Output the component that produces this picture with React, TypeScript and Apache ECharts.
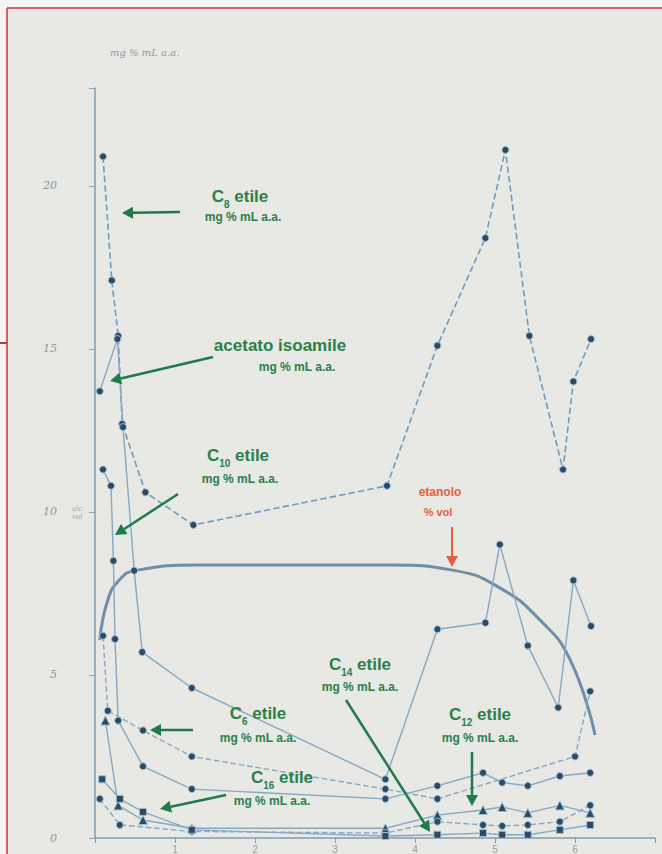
import React, { useEffect, useRef } from "react";
import * as echarts from "echarts";

// ---- data (x in time units, y in mg % mL a.a.) ----
const xTickLabels = ["", "1", "2", "3", "4", "5", "6", ""];
const yTickLabels: Record<number, string> = { 0: "0", 5: "5", 10: "10", 15: "15", 20: "20" };

const c8Etile = [
  [0.1, 20.9], [0.21, 17.1], [0.29, 15.4], [0.34, 12.7], [0.63, 10.6], [1.23, 9.6],
  [3.65, 10.8], [4.28, 15.1], [4.88, 18.4], [5.13, 21.1], [5.43, 15.4], [5.85, 11.3],
  [5.98, 14.0], [6.2, 15.3],
];
const acetatoIsoamile = [
  [0.06, 13.7], [0.28, 15.3], [0.35, 12.6], [0.49, 8.2], [0.59, 5.7], [1.21, 4.6],
  [3.63, 1.8], [4.28, 6.4], [4.88, 6.6], [5.06, 9.0], [5.41, 5.9], [5.79, 4.0],
  [5.98, 7.9], [6.2, 6.5],
];
const c10Etile = [
  [0.1, 11.3], [0.2, 10.8], [0.23, 8.5], [0.25, 6.1], [0.29, 3.6], [0.6, 2.2],
  [1.21, 1.5], [3.63, 1.2], [4.28, 1.6], [4.85, 2.0], [5.09, 1.7], [5.41, 1.6],
  [5.81, 1.9], [6.19, 2.0],
];
const c6Etile = [
  [0.1, 6.2], [0.16, 3.9], [0.6, 3.3], [1.21, 2.5], [3.63, 1.5], [4.28, 1.2],
  [6.0, 2.5], [6.19, 4.5],
];
const c12Etile = [
  [0.13, 3.6], [0.29, 1.0], [0.6, 0.55], [1.21, 0.3], [3.63, 0.3], [4.28, 0.7],
  [4.85, 0.86], [5.09, 0.95], [5.41, 0.77], [5.81, 1.0], [6.19, 0.77],
];
const c14Etile = [
  [0.06, 1.2], [0.31, 0.4], [1.21, 0.2], [3.63, 0.15], [4.28, 0.5], [4.85, 0.4],
  [5.09, 0.37], [5.41, 0.4], [5.81, 0.5], [6.19, 1.0],
];
const c16Etile = [
  [0.09, 1.8], [0.31, 1.2], [0.6, 0.8], [1.21, 0.25], [3.63, 0.06], [4.28, 0.1],
  [4.85, 0.15], [5.09, 0.1], [5.41, 0.1], [5.81, 0.25], [6.19, 0.4],
];
const etanoloVol = [
  [0.06, 6.07], [0.16, 7.3], [0.3, 7.9], [0.5, 8.2], [1.31, 8.37], [3.69, 8.37],
  [4.5, 8.2], [5.06, 7.67], [5.56, 6.69], [5.94, 5.46], [6.25, 3.16],
];

const GREEN = "#2b8048";
const ARROW_GREEN = "#1f7a4c";
const RED = "#e0623e";
const LINE = "#86a8c2";
const DOT = "#2c4a62";

function arrow(x1: number, y1: number, x2: number, y2: number, color: string, w = 2.5) {
  const dx = x2 - x1, dy = y2 - y1;
  const len = Math.sqrt(dx * dx + dy * dy);
  const ux = dx / len, uy = dy / len;
  const hl = 11, hw = 6;
  const bx = x2 - ux * hl, by = y2 - uy * hl;
  return [
    { type: "line", z: 100, shape: { x1, y1, x2: bx, y2: by }, style: { stroke: color, lineWidth: w } },
    {
      type: "polygon", z: 100,
      shape: { points: [[x2, y2], [bx - uy * hw, by + ux * hw], [bx + uy * hw, by - ux * hw]] },
      style: { fill: color },
    },
  ];
}

function label(cx: number, y: number, sub: string, color = GREEN) {
  return {
    type: "text", z: 100, x: cx, y,
    style: {
      text: `{m|C}{s|${sub}}{m| etile}`,
      align: "center", verticalAlign: "middle",
      rich: {
        m: { fontSize: 17, fontWeight: "bold", fill: color, fontFamily: "Liberation Sans", verticalAlign: "middle", lineHeight: 20 },
        s: { fontSize: 10, fontWeight: "bold", fill: color, fontFamily: "Liberation Sans", verticalAlign: "bottom", lineHeight: 12, padding: [0, 0, -3, 0] },
      },
    },
  };
}

function unit(cx: number, y: number, color = GREEN, text = "mg % mL a.a.") {
  return {
    type: "text", z: 100, x: cx, y,
    style: { text, align: "center", verticalAlign: "middle", fontSize: 12, fontWeight: "bold", fill: color, fontFamily: "Liberation Sans" },
  };
}

function lineSeries(name: string, data: number[][], opts: any = {}) {
  return {
    type: "line", name, data,
    symbol: opts.symbol || "circle",
    symbolSize: opts.symbolSize || 7,
    itemStyle: { color: DOT, borderColor: "#9fbfd6", borderWidth: 1 },
    lineStyle: { color: opts.color || LINE, width: opts.width || 1.4, type: opts.dash ? "dashed" : "solid" },
    z: 3,
  };
}

export default function App() {
  const ref = useRef<HTMLDivElement>(null);
  useEffect(() => {
    document.body.style.margin = "0";
    const chart = echarts.init(ref.current!, null, { renderer: "svg" });
    const option: any = {
      animation: false,
      backgroundColor: "#f4f4f2",
      grid: { left: 95, right: 7, top: 88, bottom: 16 },
      xAxis: {
        type: "value", min: 0, max: 7, interval: 1,
        axisLine: { show: true, onZero: false, lineStyle: { color: "#7f9db5", width: 1.5 } },
        axisTick: { show: true, length: 5, lineStyle: { color: "#7f9db5" } },
        axisLabel: {
          color: "#8fa2b0", fontSize: 10, margin: 6, fontFamily: "Liberation Sans",
          formatter: (v: number) => xTickLabels[Math.round(v)] ?? "",
        },
        splitLine: { show: false },
      },
      yAxis: {
        type: "value", min: 0, max: 23, interval: 5,
        axisLine: { show: true, lineStyle: { color: "#7f9db5", width: 1.5 } },
        axisTick: { show: true, length: 6, lineStyle: { color: "#8fa2b0" } },
        axisLabel: {
          color: "#8a9aa6", fontSize: 11, margin: 38, fontFamily: "DejaVu Serif", fontStyle: "italic",
          formatter: (v: number) => yTickLabels[v] ?? "",
        },
        splitLine: { show: false },
      },
      series: [
        {
          type: "line", name: "etanolo % vol", data: etanoloVol, smooth: 0.5, showSymbol: false,
          lineStyle: { color: "#6f8fa8", width: 3 }, z: 2,
        },
        lineSeries("C8 etile", c8Etile, { dash: true, color: "#6d9cc0", width: 1.6 }),
        lineSeries("acetato isoamile", acetatoIsoamile, {}),
        lineSeries("C10 etile", c10Etile, {}),
        lineSeries("C6 etile", c6Etile, { dash: true }),
        lineSeries("C12 etile", c12Etile, { symbol: "triangle", symbolSize: 9 }),
        lineSeries("C14 etile", c14Etile, { dash: true }),
        lineSeries("C16 etile", c16Etile, { symbol: "rect", symbolSize: 7 }),
      ],
      graphic: [
        { type: "rect", z: -10, shape: { x: 7, y: 8, width: 660, height: 850 }, style: { fill: "#e8e8e5" } },
        { type: "line", z: 100, shape: { x1: 7, y1: 8, x2: 662, y2: 8 }, style: { stroke: "#c8343a", lineWidth: 1.5 } },
        { type: "line", z: 100, shape: { x1: 7, y1: 8, x2: 7, y2: 854 }, style: { stroke: "#c8343a", lineWidth: 1.5 } },
        { type: "line", z: 100, shape: { x1: 0, y1: 343, x2: 7, y2: 343 }, style: { stroke: "#c8343a", lineWidth: 2 } },
        {
          type: "text", z: 100, x: 110, y: 52,
          style: { text: "mg % mL a.a.", fontSize: 10, fill: "#8b9aa6", fontFamily: "DejaVu Serif", fontStyle: "italic", verticalAlign: "middle" },
        },
        {
          type: "text", z: 100, x: 72, y: 513,
          style: { text: "alc\nvol", fontSize: 7, fill: "#9aa8b2", fontFamily: "DejaVu Serif", fontStyle: "italic", verticalAlign: "middle", lineHeight: 8 },
        },
        label(240, 196, "8"), unit(243, 217),
        ...arrow(180, 212, 122, 213, ARROW_GREEN),
        {
          type: "text", z: 100, x: 280, y: 345,
          style: { text: "acetato isoamile", align: "center", verticalAlign: "middle", fontSize: 17, fontWeight: "bold", fill: GREEN, fontFamily: "Liberation Sans" },
        },
        unit(297, 367),
        ...arrow(213, 357, 110, 381, ARROW_GREEN),
        label(238, 455, "10"), unit(240, 479),
        ...arrow(178, 494, 115, 535, ARROW_GREEN),
        {
          type: "text", z: 100, x: 440, y: 492,
          style: { text: "etanolo", align: "center", verticalAlign: "middle", fontSize: 12, fontWeight: "bold", fill: RED, fontFamily: "Liberation Sans" },
        },
        {
          type: "text", z: 100, x: 438, y: 512,
          style: { text: "% vol", align: "center", verticalAlign: "middle", fontSize: 11, fontWeight: "bold", fill: RED, fontFamily: "Liberation Sans" },
        },
        ...arrow(452, 527, 452, 567, RED, 2),
        label(360, 664, "14"), unit(360, 687),
        ...arrow(346, 700, 430, 832, ARROW_GREEN),
        label(480, 714, "12"), unit(480, 738),
        ...arrow(472, 752, 472, 806, ARROW_GREEN),
        label(258, 713, "6"), unit(258, 738),
        ...arrow(193, 730, 150, 730, ARROW_GREEN),
        label(282, 777, "16"), unit(272, 801),
        ...arrow(226, 795, 160, 809, ARROW_GREEN),
      ],
    };
    chart.setOption(option);
    return () => chart.dispose();
  }, []);
  return <div ref={ref} style={{ width: 662, height: 854 }} />;
}
